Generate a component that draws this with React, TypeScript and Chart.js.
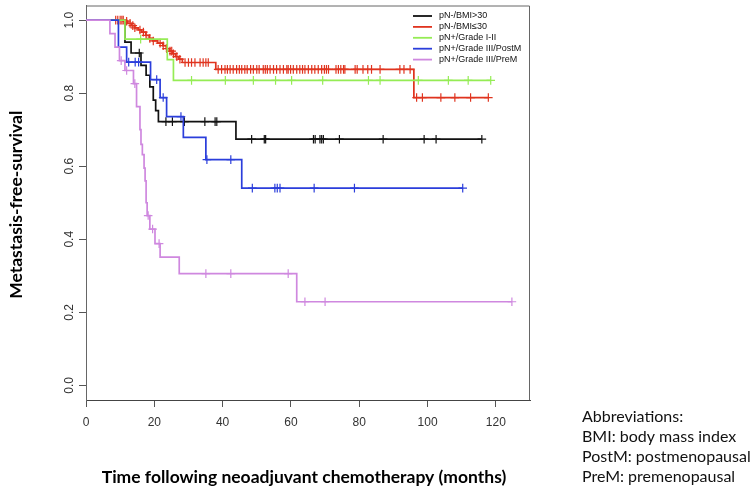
import React, { useEffect, useRef } from "react";
import { Chart, registerables } from "chart.js";
Chart.register(...registerables);

const seriesLabels = ["pN-/BMI>30", "pN-/BMI≤30", "pN+/Grade I-II", "pN+/Grade III/PostM", "pN+/Grade III/PreM"];
const seriesColors = ["#111111", "#e0341f", "#95ec55", "#2b3edb", "#cf88df"];

const xTickValues = [0, 20, 40, 60, 80, 100, 120];
const yTickValues = [0, 0.2, 0.4, 0.6, 0.8, 1.0];
const yTickLabels = ["0.0", "0.2", "0.4", "0.6", "0.8", "1.0"];

const xTitle = "Time following neoadjuvant chemotherapy (months)";
const yTitle = "Metastasis-free-survival";
const abbreviations = ["Abbreviations:", "BMI: body mass index", "PostM: postmenopausal", "PreM: premenopausal"];

// Kaplan-Meier step points (time, survival after event); last point = end of follow-up
const blackTimes = [0, 11.4, 13.2, 16.1, 17.6, 18.7, 19.7, 20.4, 21.2, 43.9, 115.9];
const blackSurv = [1, 0.94, 0.91, 0.876, 0.849, 0.817, 0.781, 0.752, 0.722, 0.674, 0.674];
const blackCensor = [15.6, 23.4, 25.3, 28.8, 34.8, 37.8, 38.3, 48.5, 52.2, 52.6, 66.6, 67.1, 68.5, 69.0, 69.5, 74.2, 87.0, 99.0, 102.5, 115.9];

const redTimes = [0, 11.0, 12.2, 13.3, 14.3, 15.3, 16.3, 17.5, 18.5, 19.5, 21.0, 22.5, 23.5, 24.5, 25.3, 26.2, 27.2, 28.2, 38.0, 96.0, 117.8];
const redSurv = [1, 0.997, 0.991, 0.985, 0.979, 0.973, 0.967, 0.958, 0.95, 0.943, 0.937, 0.93, 0.922, 0.915, 0.908, 0.9, 0.893, 0.884, 0.865, 0.788, 0.788];
const redCensor = [
  8.7, 9.3, 10.0, 10.5, 10.9, 11.9, 12.9, 13.7, 14.3, 15.8, 16.8, 17.6, 18.7, 19.7, 21.7, 22.6, 23.6, 24.6, 25.1, 25.6, 26.6, 27.5,
  29.0, 30.0, 30.9, 31.9, 33.4, 34.3, 35.1, 35.8,
  38.7, 39.7, 40.7, 41.4, 42.2, 43.1, 44.1, 44.9, 45.6, 46.5, 47.2, 48.2, 49.0, 50.0, 50.7, 51.9, 52.5, 53.1, 53.9, 54.9, 55.8,
  56.8, 57.8, 58.8, 59.2, 59.9, 60.7, 61.7, 62.6, 63.4, 64.1, 65.1, 66.1, 67.0, 68.0, 69.0, 69.8, 70.4, 71.0, 73.2, 73.9, 74.6,
  75.4, 75.8, 78.8, 79.4, 81.1, 82.5, 83.6, 86.1, 91.9, 93.1, 94.9,
  96.8, 98.5, 103.9, 108.0, 112.6, 117.8,
];

const greenTimes = [0, 11.4, 23.8, 25.6, 118.5];
const greenSurv = [1, 0.948, 0.892, 0.835, 0.835];
const greenCensor = [16.0, 30.9, 40.8, 49.0, 55.5, 60.2, 69.3, 82.7, 86.1, 97.3, 106.1, 111.9, 118.5];

const blueTimes = [0, 9.5, 11.9, 18.9, 21.7, 23.6, 28.5, 35.1, 45.6, 110.3];
const blueSurv = [1, 0.926, 0.885, 0.837, 0.788, 0.736, 0.679, 0.618, 0.54, 0.54];
const blueCensor = [12.5, 14.4, 15.4, 20.7, 22.6, 27.8, 35.4, 42.4, 48.7, 55.3, 56.0, 56.8, 66.8, 78.6, 110.3];

const purpleTimes = [0, 7.0, 8.5, 9.8, 11.4, 13.9, 14.8, 15.8, 16.1, 16.5, 17.0, 17.3, 17.6, 17.9, 18.7, 20.2, 21.7, 27.3, 61.7, 124.7];
const purpleSurv = [1, 0.963, 0.926, 0.889, 0.862, 0.826, 0.763, 0.7, 0.66, 0.632, 0.595, 0.56, 0.5, 0.465, 0.428, 0.388, 0.351, 0.306, 0.229, 0.229];
const purpleCensor = [10.3, 11.9, 14.3, 18.2, 19.5, 21.4, 35.1, 42.4, 59.2, 64.1, 70.0, 124.7];

const curveTimes = [blackTimes, redTimes, greenTimes, blueTimes, purpleTimes];
const curveSurv = [blackSurv, redSurv, greenSurv, blueSurv, purpleSurv];
const curveCensor = [blackCensor, redCensor, greenCensor, blueCensor, purpleCensor];

function survAt(times: number[], surv: number[], t: number) {
  let s = surv[0];
  for (let i = 0; i < times.length; i++) {
    if (times[i] <= t) s = surv[i];
  }
  return s;
}

const FONT = "'Liberation Sans', Arial, sans-serif";
const TITLE_FONT = "Lato, 'Open Sans', sans-serif";

export default function App() {
  const ref = useRef<HTMLCanvasElement | null>(null);
  useEffect(() => {
    if (!ref.current) return;
    const datasets: any[] = [];
    for (let i = 0; i < 5; i++) {
      datasets.push({
        label: seriesLabels[i],
        data: curveTimes[i].map((t, j) => ({ x: t, y: curveSurv[i][j] })),
        borderColor: seriesColors[i],
        backgroundColor: seriesColors[i],
        borderWidth: 1.7,
        stepped: true,
        pointRadius: 0,
        fill: false,
        order: 10 - i * 2,
      });
    }
    for (let i = 0; i < 5; i++) {
      datasets.push({
        label: seriesLabels[i] + " censored",
        data: curveCensor[i].map((t) => ({ x: t, y: survAt(curveTimes[i], curveSurv[i], t) })),
        borderColor: seriesColors[i],
        backgroundColor: seriesColors[i],
        showLine: false,
        pointStyle: "cross",
        pointRadius: 4.3,
        borderWidth: 1.2,
        order: 9 - i * 2,
      });
    }

    const overlay = {
      id: "overlay",
      afterDraw(chart: any) {
        const ctx = chart.ctx as CanvasRenderingContext2D;
        const { left, right, top, bottom } = chart.chartArea;
        ctx.save();
        // top & right frame
        ctx.strokeStyle = "#666";
        ctx.lineWidth = 1;
        ctx.beginPath();
        ctx.moveTo(left, top + 0.5);
        ctx.lineTo(right - 0.5, top + 0.5);
        ctx.lineTo(right - 0.5, bottom);
        ctx.stroke();
        // y tick labels (rotated)
        ctx.fillStyle = "#333";
        ctx.font = `12px ${FONT}`;
        ctx.textAlign = "center";
        ctx.textBaseline = "middle";
        const ys = chart.scales.y;
        yTickValues.forEach((v, i) => {
          const y = ys.getPixelForValue(v);
          ctx.save();
          ctx.translate(70, y);
          ctx.rotate(-Math.PI / 2);
          ctx.fillText(yTickLabels[i], 0, 0);
          ctx.restore();
        });
        // axis titles
        ctx.fillStyle = "#000";
        ctx.font = `bold 17.5px ${TITLE_FONT}`;
        ctx.save();
        ctx.translate(16, (top + bottom) / 2 + 2);
        ctx.rotate(-Math.PI / 2);
        ctx.fillText(yTitle, 0, 0);
        ctx.restore();
        ctx.fillText(xTitle, (left + right) / 2 - 4, 477);
        // legend
        ctx.font = `9px ${FONT}`;
        ctx.textAlign = "left";
        for (let i = 0; i < 5; i++) {
          const y = 16 + i * 10.9;
          ctx.strokeStyle = seriesColors[i];
          ctx.lineWidth = 1.8;
          ctx.beginPath();
          ctx.moveTo(413, y);
          ctx.lineTo(432, y);
          ctx.stroke();
          ctx.fillStyle = "#111";
          ctx.fillText(chart.data.datasets[i].label, 439, y);
        }
        // abbreviations
        ctx.font = `16px ${TITLE_FONT}`;
        ctx.fillStyle = "#111";
        abbreviations.forEach((s, i) => {
          ctx.fillText(s, 582, 417 + i * 19.8);
        });
        ctx.restore();
      },
    };

    const chart = new Chart(ref.current, {
      type: "line",
      data: { datasets },
      options: {
        animation: false,
        responsive: false,
        devicePixelRatio: 1,
        layout: { padding: { left: 0, right: 220, top: 1, bottom: 0 } },
        plugins: { legend: { display: false }, tooltip: { enabled: false } },
        scales: {
          x: {
            type: "linear",
            min: 0,
            max: 130,
            afterBuildTicks: (s: any) => {
              s.ticks = xTickValues.map((v) => ({ value: v }));
            },
            afterFit: (s: any) => {
              s.height = 90;
            },
            grid: { drawOnChartArea: false, drawTicks: true, tickLength: 7, color: "#555" },
            border: { display: true, color: "#444", width: 1 },
            ticks: { color: "#333", font: { family: FONT, size: 12 }, padding: 8, maxRotation: 0, autoSkip: false },
          },
          y: {
            type: "linear",
            min: -0.04,
            max: 1.04,
            afterBuildTicks: (s: any) => {
              s.ticks = yTickValues.map((v) => ({ value: v }));
            },
            afterFit: (s: any) => {
              s.width = 86;
            },
            grid: { drawOnChartArea: false, drawTicks: true, tickLength: 7, color: "#555" },
            border: { display: true, color: "#666", width: 1 },
            ticks: { display: false },
          },
        },
      } as any,
      plugins: [overlay],
    });
    return () => chart.destroy();
  }, []);
  return (
    <div style={{ position: "fixed", left: 0, top: 0, width: 750, height: 490, background: "#fff" }}>
      <canvas ref={ref} width={750} height={490} style={{ width: 750, height: 490, display: "block" }} />
    </div>
  );
}
